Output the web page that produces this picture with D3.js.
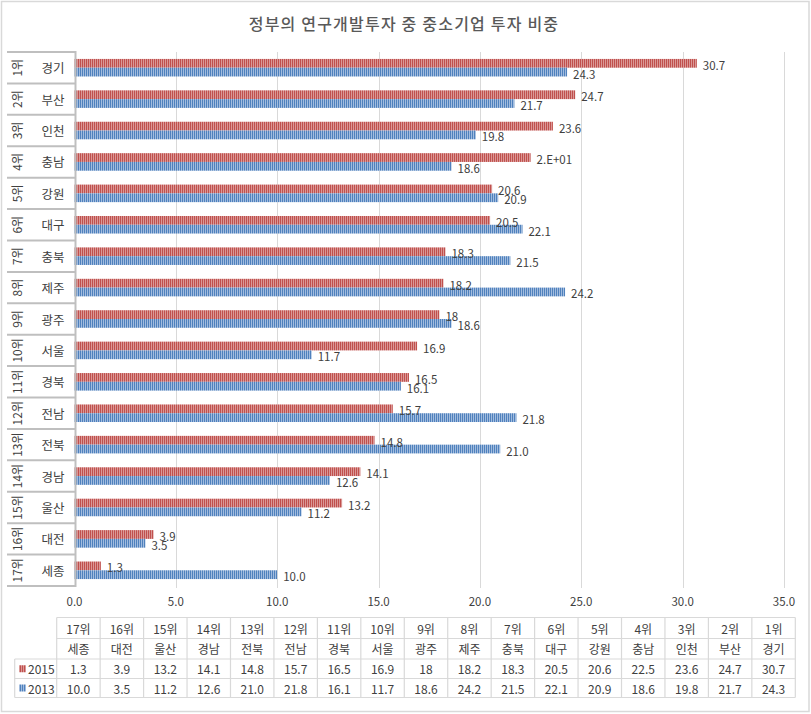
<!DOCTYPE html>
<html>
<head>
<meta charset="utf-8">
<script src="https://cdn.jsdelivr.net/npm/d3@7"></script>
<style>
  html, body { margin: 0; padding: 0; background: #fff; }
  svg { display: block; font-family: "Noto Sans CJK KR", "Noto Sans", sans-serif; }
</style>
</head>
<body>
<svg id="chart" width="811" height="714"></svg>
<script>
// ---- data ----
const ranks = ["1위","2위","3위","4위","5위","6위","7위","8위","9위","10위","11위","12위","13위","14위","15위","16위","17위"];
const regions = ["경기","부산","인천","충남","강원","대구","충북","제주","광주","서울","경북","전남","전북","경남","울산","대전","세종"];
const values2015 = [30.7,24.7,23.6,22.5,20.6,20.5,18.3,18.2,18,16.9,16.5,15.7,14.8,14.1,13.2,3.9,1.3];
const values2013 = [24.3,21.7,19.8,18.6,20.9,22.1,21.5,24.2,18.6,11.7,16.1,21.8,21.0,12.6,11.2,3.5,10.0];
const barLabels2015 = ["30.7","24.7","23.6","2.E+01","20.6","20.5","18.3","18.2","18","16.9","16.5","15.7","14.8","14.1","13.2","3.9","1.3"];
const barLabels2013 = ["24.3","21.7","19.8","18.6","20.9","22.1","21.5","24.2","18.6","11.7","16.1","21.8","21.0","12.6","11.2","3.5","10.0"];
const table2015 = ["30.7","24.7","23.6","22.5","20.6","20.5","18.3","18.2","18","16.9","16.5","15.7","14.8","14.1","13.2","3.9","1.3"];
const table2013 = barLabels2013;
const seriesNames = ["2015","2013"];
const xTicks = [0,5,10,15,20,25,30,35];
const title = "정부의 연구개발투자 중 중소기업 투자 비중";

// ---- layout ----
const svg = d3.select("#chart");
const W = 811, H = 714;
const plot = {left: 74.5, right: 784, top: 52, bottom: 586};
const textColor = "#404040";
const gridColor = "#d9d9d9";
const axisColor = "#bfbfbf";

// patterns
const defs = svg.append("defs");
function stripe(id, dark, light) {
  const p = defs.append("pattern").attr("id", id).attr("patternUnits", "userSpaceOnUse")
    .attr("width", 2).attr("height", 4);
  p.append("rect").attr("width", 2).attr("height", 4).attr("fill", light);
  p.append("rect").attr("width", 1).attr("height", 4).attr("fill", dark);
}
stripe("pRed", "#C0504D", "#DA9896");
stripe("pBlue", "#4F81BD", "#A2BCDE");
const fills = {"2015": "url(#pRed)", "2013": "url(#pBlue)"};

// outer border
svg.append("rect").attr("x", 1.5).attr("y", 1.5).attr("width", W - 3.5).attr("height", H - 4)
  .attr("fill", "#fff").attr("stroke", gridColor).attr("stroke-width", 1.5);

// title
svg.append("text").attr("x", 404).attr("y", 23).attr("text-anchor", "middle")
  .attr("dominant-baseline", "central").attr("font-weight", 500)
  .attr("font-size", 16).attr("letter-spacing", 1.2).attr("fill", "#595959").text(title);

// scales
const x = d3.scaleLinear().domain([0, 35]).range([plot.left, plot.right]);
const y = d3.scaleBand().domain(ranks).range([plot.top, plot.bottom]).padding(0);
const ySub = d3.scaleBand().domain(seriesNames).range([0, y.bandwidth()]).paddingInner(0).paddingOuter(0.79);

// gridlines
svg.append("g").selectAll("line").data(xTicks.filter(d => d > 0)).join("line")
  .attr("x1", d => Math.round(x(d)) + 0.5).attr("x2", d => Math.round(x(d)) + 0.5)
  .attr("y1", plot.top).attr("y2", plot.bottom + 2)
  .attr("stroke", gridColor).attr("stroke-width", 1);

// x tick labels
svg.append("g").selectAll("text").data(xTicks).join("text")
  .attr("x", d => x(d)).attr("y", 601).attr("text-anchor", "middle")
  .attr("dominant-baseline", "central").attr("font-size", 11.5).attr("fill", textColor)
  .text(d => d3.format(".1f")(d));

// bars
const rows = ranks.map((r, i) => ({rank: r, region: regions[i],
  vals: [{s: "2015", v: values2015[i], lab: barLabels2015[i]}, {s: "2013", v: values2013[i], lab: barLabels2013[i]}]}));
const rowG = svg.append("g").selectAll("g").data(rows).join("g")
  .attr("transform", d => `translate(0,${y(d.rank)})`);
rowG.selectAll("rect").data(d => d.vals).join("rect")
  .attr("x", x(0)).attr("y", d => ySub(d.s)).attr("width", d => x(d.v) - x(0))
  .attr("height", ySub.bandwidth()).attr("fill", d => fills[d.s]);
rowG.selectAll("text.val").data(d => d.vals).join("text").attr("class", "val")
  .attr("x", d => x(d.v) + 6).attr("y", d => ySub(d.s) + ySub.bandwidth() / 2 + 1.5)
  .attr("dominant-baseline", "central").attr("font-size", 11.5).attr("fill", textColor)
  .text(d => d.lab);

// category axis (multi-level)
const catG = svg.append("g");
const bounds = ranks.map(r => y(r)).concat([plot.bottom]);
catG.selectAll("line.sep").data(bounds).join("line").attr("class", "sep")
  .attr("x1", 7).attr("x2", plot.left + 1).attr("y1", d => d).attr("y2", d => d)
  .attr("stroke", axisColor).attr("stroke-width", 2);
catG.append("line").attr("x1", plot.left + 1).attr("x2", plot.left + 1)
  .attr("y1", plot.top - 1).attr("y2", plot.bottom + 1)
  .attr("stroke", axisColor).attr("stroke-width", 2);
catG.selectAll("text.rank").data(rows).join("text").attr("class", "rank")
  .attr("transform", d => `translate(16,${y(d.rank) + y.bandwidth() / 2}) rotate(-90)`)
  .attr("text-anchor", "middle").attr("dominant-baseline", "central")
  .attr("font-size", 12).attr("fill", textColor).text(d => d.rank);
catG.selectAll("text.reg").data(rows).join("text").attr("class", "reg")
  .attr("x", 53).attr("y", d => y(d.rank) + y.bandwidth() / 2)
  .attr("text-anchor", "middle").attr("dominant-baseline", "central")
  .attr("font-size", 12.5).attr("fill", textColor).text(d => d.region);

// data table
const colOrder = ranks.slice().reverse();
const tx = d3.scaleBand().domain(colOrder).range([56.7, 795.3]);
const rowY = [617.5, 638.5, 659, 678.5, 697.5];
const tG = svg.append("g");
rowY.forEach((yy, i) => {
  tG.append("line").attr("x1", i >= 2 ? 14.7 : 56.7).attr("x2", 795.3)
    .attr("y1", yy).attr("y2", yy).attr("stroke", gridColor).attr("stroke-width", 1.2);
});
tG.selectAll("line.v").data(colOrder.map(c => tx(c)).concat([795.3])).join("line").attr("class", "v")
  .attr("x1", d => d).attr("x2", d => d).attr("y1", rowY[0]).attr("y2", rowY[4])
  .attr("stroke", gridColor).attr("stroke-width", 1.2);
tG.append("line").attr("x1", 14.7).attr("x2", 14.7).attr("y1", rowY[2]).attr("y2", rowY[4])
  .attr("stroke", gridColor).attr("stroke-width", 1.2);

const tableRows = [ranks, regions, table2015, table2013];
tableRows.forEach((arr, ri) => {
  const cy = (rowY[ri] + rowY[ri + 1]) / 2;
  tG.append("g").selectAll("text").data(ranks.map((r, i) => ({r, t: arr[i]}))).join("text")
    .attr("x", d => tx(d.r) + tx.bandwidth() / 2).attr("y", cy)
    .attr("text-anchor", "middle").attr("dominant-baseline", "central")
    .attr("font-size", 12).attr("fill", textColor).text(d => d.t);
});
seriesNames.forEach((s, i) => {
  const cy = (rowY[2 + i] + rowY[3 + i]) / 2;
  tG.append("rect").attr("x", 19).attr("y", cy - 3.5).attr("width", 7).attr("height", 7).attr("fill", fills[s]);
  tG.append("text").attr("x", 28).attr("y", cy).attr("dominant-baseline", "central")
    .attr("font-size", 12).attr("fill", textColor).text(s);
});
</script>
</body>
</html>
